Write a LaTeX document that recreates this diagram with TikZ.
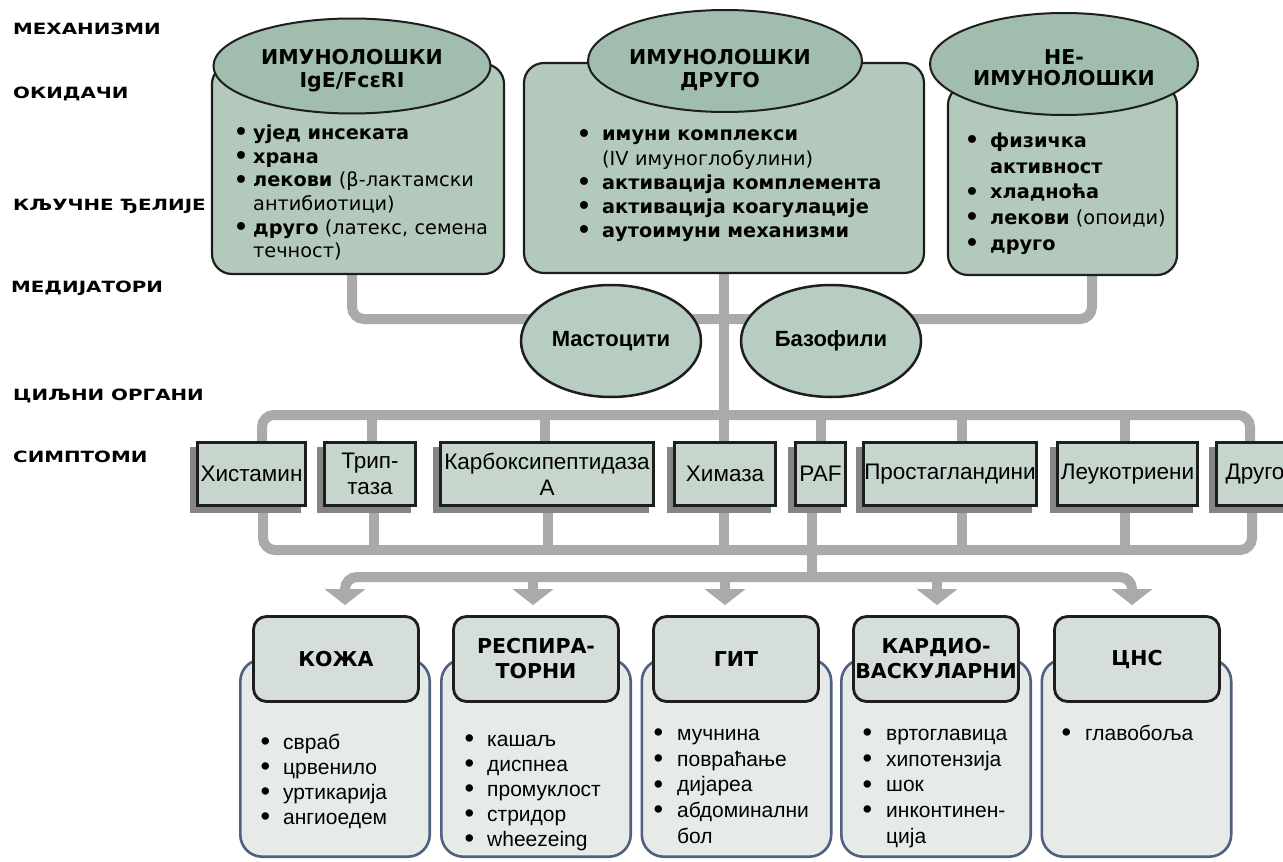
\documentclass[tikz,border=0pt]{standalone}
\usepackage{fontspec}
\usepackage{graphicx}
\setmainfont{Liberation Sans}
\newfontfamily\dvs{DejaVu Sans}
\newfontfamily\lblfont[FakeStretch=1.28]{DejaVu Sans}
\usetikzlibrary{shapes.geometric,arrows.meta}
\pgfdeclarelayer{paper}
\pgfdeclarelayer{bg}
\pgfdeclarelayer{shd}
\pgfsetlayers{paper,bg,shd,main}
\definecolor{boxfill}{HTML}{B2C9BC}
\definecolor{ellfill}{HTML}{A1BDAD}
\definecolor{cellfill}{HTML}{B8CDC1}
\definecolor{medfill}{HTML}{C6D6CD}
\definecolor{hdrfill}{HTML}{D5DED8}
\definecolor{symfill}{HTML}{E6EBE8}
\definecolor{symline}{HTML}{506080}
\definecolor{conngray}{HTML}{AAAAAA}
\definecolor{shadowgray}{HTML}{858585}
\definecolor{ink}{HTML}{1E1E1E}
\newlength\bulind
\def\bulsym{\textbullet}
\newcommand\bul[1]{\par\noindent\hangindent=\bulind\hangafter=1\makebox[\bulind][l]{\strut\bulsym}#1}
\newcommand\topbul{\def\bulsym{\raisebox{-0.12em}{\scalebox{1.4}{\textbullet}}}}
\newcommand\symbul{\def\bulsym{\raisebox{-0.06em}{\scalebox{1.3}{\textbullet}}}}
\begin{document}
\begin{tikzpicture}[x=1pt,y=-1pt,
  conn/.style={draw=conngray,line width=10pt},
  arrowtip/.style={-{Triangle[width=40pt,length=16pt]}},
  topbox/.style={draw=ink,line width=2.2pt,fill=boxfill,rounded corners=20pt,inner sep=0pt},
  topell/.style={ellipse,draw=ink,line width=2pt,fill=ellfill,inner sep=0pt},
  title/.style={font=\dvs\bfseries\fontsize{20.5}{23}\selectfont,align=center,inner sep=0pt},
  body/.style={font=\dvs\fontsize{19.3}{24}\selectfont,text width=420pt,align=left,inner sep=0pt,anchor=north west},
  lbl/.style={font=\lblfont\bfseries\fontsize{15.5}{18}\selectfont,anchor=base west,inner sep=0pt},
  cell/.style={ellipse,draw=ink,line width=2.5pt,fill=cellfill,inner sep=0pt,minimum width=180pt,minimum height=112pt,font=\bfseries\fontsize{22}{26}\selectfont},
  med/.style={draw=ink,line width=3pt,fill=medfill,inner sep=0pt,minimum height=63pt,font=\fontsize{22.5}{26}\selectfont,align=center},
  hdr/.style={draw=ink,line width=2.8pt,fill=hdrfill,rounded corners=13pt,minimum width=165pt,minimum height=85pt,inner sep=0pt,align=center,font=\dvs\bfseries\fontsize{20.5}{25}\selectfont},
  sym/.style={draw=symline,line width=2.6pt,fill=symfill,rounded corners=22pt,minimum width=189.4pt,minimum height=197.4pt,inner sep=0pt},
  symtxt/.style={font=\fontsize{21}{25}\selectfont,text width=180pt,align=left,inner sep=0pt,anchor=north west},
]
\useasboundingbox (0,0) rectangle (1283,862);
\begin{pgfonlayer}{paper}
\fill[white] (0,0) rectangle (1283,862);
\end{pgfonlayer}

% left labels
\node[lbl] (L1) at (13,34.6) {МЕХАНИЗМИ};
\node[lbl] (L2) at (13,98.6) {ОКИДАЧИ};
\node[lbl] (L3) at (13,210.6) {КЉУЧНЕ ЂЕЛИЈЕ};
\node[lbl] (L4) at (11,292.6) {МЕДИЈАТОРИ};
\node[lbl] (L5) at (13,400.6) {ЦИЉНИ ОРГАНИ};
\node[lbl] (L6) at (13,462.6) {СИМПТОМИ};

% top boxes
\node[topbox,minimum width=292pt,minimum height=210pt] (b1) at (358,169) {};
\node[topbox,minimum width=400pt,minimum height=210pt] (b2) at (724,168) {};
\node[topbox,minimum width=229pt,minimum height=190pt] (b3) at (1062.5,180) {};
\node[topell,minimum width=277pt,minimum height=95pt] (e1) at (352,66) {};
\node[topell,minimum width=274pt,minimum height=102pt] (e2) at (725,61) {};
\node[topell,minimum width=268pt,minimum height=102pt] (e3) at (1064,64) {};
\node[title] (tt1) at (352,71) {ИМУНОЛОШКИ\\IgE/FcεRI};
\node[title] (tt2) at (720,70) {ИМУНОЛОШКИ\\ДРУГО};
\node[title,font=\dvs\bfseries\fontsize{20.5}{21.5}\selectfont] (tt3) at (1064,67.5) {НЕ-\\ИМУНОЛОШКИ};

\node[body] (l1) at (233,115.8) {\fontsize{19.3}{23.6}\selectfont\topbul\setlength\bulind{20pt}%
\bul{\textbf{ујед инсеката}}
\bul{\textbf{храна}}
\bul{\textbf{лекови} (β-лактамски\newline антибиотици)}
\bul{\textbf{друго} (латекс, семена\newline течност)}\par};
\node[body] (l2) at (576,116.4) {\fontsize{19.3}{24.2}\selectfont\topbul\setlength\bulind{26pt}%
\bul{\textbf{имуни комплекси}\newline (IV имуноглобулини)}
\bul{\textbf{активација комплемента}}
\bul{\textbf{активација коагулације}}
\bul{\textbf{аутоимуни механизми}}\par};
\node[body] (l3) at (964,121.3) {\fontsize{19.3}{25.75}\selectfont\topbul\setlength\bulind{26pt}%
\bul{\textbf{физичка}\newline \textbf{активност}}
\bul{\textbf{хладноћа}}
\bul{\textbf{лекови} (опоиди)}
\bul{\textbf{друго}}\par};

% cells
\node[cell] (c1) at (611,341) {Мастоцити};
\node[cell] (c2) at (831,341) {Базофили};

% mediators
\node[med,minimum width=108pt] (m1) at (251.5,474) {Хистамин};
\node[med,minimum width=91pt] (m2) at (370,474) {Трип-\\таза};
\node[med,minimum width=213pt] (m3) at (547,474) {Карбоксипептидаза\\А};
\node[med,minimum width=101pt] (m4) at (725,474) {Химаза};
\node[med,minimum width=50pt] (m5) at (820.5,474) {PAF};
\node[med,minimum width=173pt] (m6) at (950,474) {Простагландини};
\node[med,minimum width=140pt] (m7) at (1127.5,474) {Леукотриени};
\node[med,minimum width=77pt] (m8) at (1255,474) {Друго};

% organs
\node[sym] (s1) at (335,758) {};
\node[sym] (s2) at (536,758) {};
\node[sym] (s3) at (736.5,758) {};
\node[sym] (s4) at (936,758) {};
\node[sym] (s5) at (1136.5,758) {};
\node[hdr] (o1) at (336,659) {КОЖА};
\node[hdr] (o2) at (536,659) {РЕСПИРА-\\ТОРНИ};
\node[hdr] (o3) at (736,659) {ГИТ};
\node[hdr] (o4) at (936,659) {КАРДИО-\\ВАСКУЛАРНИ};
\node[hdr] (o5) at (1137,659) {ЦНС};

\node[symtxt] (y1) at (260.5,724) {\symbul\setlength\bulind{22.5pt}%
\bul{свраб}\bul{црвенило}\bul{уртикарија}\bul{ангиоедем}\par};
\node[symtxt] (y2) at (464.5,721) {\symbul\setlength\bulind{22.5pt}%
\bul{кашаљ}\bul{диспнеа}\bul{промуклост}\bul{стридор}\bul{wheezeing}\par};
\node[symtxt] (y3) at (653.5,714.5) {\fontsize{21}{25.75}\selectfont\symbul\setlength\bulind{23.5pt}%
\bul{мучнина}\bul{повраћање}\bul{дијареа}\bul{абдоминални\newline бол}\par};
\node[symtxt] (y4) at (862.5,714.5) {\fontsize{21}{25.75}\selectfont\symbul\setlength\bulind{23.5pt}%
\bul{вртоглавица}\bul{хипотензија}\bul{шок}\bul{инконтинен-\newline ција}\par};
\node[symtxt] (y5) at (1061.5,714.5) {\fontsize{21}{25.75}\selectfont\symbul\setlength\bulind{23.5pt}%
\bul{главобоља}\par};

% shadows
\begin{pgfonlayer}{shd}
\foreach \n in {m1,m2,m3,m4,m5,m6,m7,m8}
  \fill[shadowgray] ([shift={(-6pt,-6pt)}]\n.south west) rectangle ([shift={(-6pt,-6pt)}]\n.north east);
\end{pgfonlayer}

% connectors
\begin{pgfonlayer}{bg}
\draw[conn,rounded corners=12pt] (b1.south -| e1.center) -- (352,319) -- (1092,319) -- (b3.south -| 1092,0);
\draw[conn] (b2.south) -- (b2.south |- m4.north);
\draw[conn,rounded corners=12pt] (m1.north -| 262,0) -- (262,415) -- (1250,415) -- (m8.north -| 1250,0);
\foreach \n/\x in {m2/372,m3/545,m5/821,m6/962,m7/1125}
  \draw[conn] (\n.north -| \x,0) -- (\x,415);
\draw[conn,rounded corners=12pt] (m1.south -| 263,0) -- (263,550) -- (1252,550) -- (m8.south -| 1252,0);
\foreach \n/\x in {m2/374,m3/548,m4/724,m6/962,m7/1125}
  \draw[conn] (\n.south -| \x,0) -- (\x,550);
\draw[conn] (m5.south -| 812,0) -- (812,577);
\draw[conn,arrowtip,rounded corners=12pt,shorten >=10pt] (812,577) -- (345,577) -- (o1.north -| 345,0);
\draw[conn,arrowtip,rounded corners=12pt,shorten >=10pt] (812,577) -- (1132,577) -- (o5.north -| 1132,0);
\foreach \n/\x in {o2/533,o3/725,o4/937}
  \draw[conn,arrowtip,shorten >=10pt] (\x,577) -- (\n.north -| \x,0);
\end{pgfonlayer}
\end{tikzpicture}
\end{document}
